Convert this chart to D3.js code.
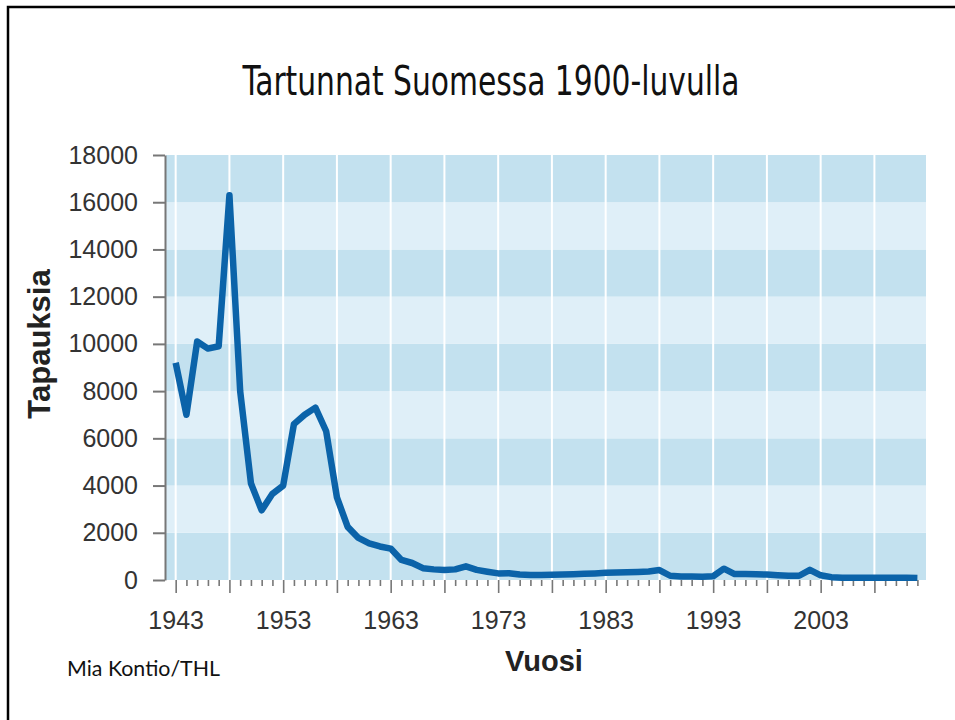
<!DOCTYPE html>
<html>
<head>
<meta charset="utf-8">
<script src="https://cdnjs.cloudflare.com/ajax/libs/d3/7.8.5/d3.min.js"></script>
<style>
  body { margin: 0; background: #fff; }
  svg { display: block; }
</style>
</head>
<body>
<svg id="chart"></svg>
<script>
// vuodet ja tapaukset luettu kuvasta
var years = [];
for (var yr = 1943; yr <= 2012; yr++) years.push(yr);

var cases = [
  9200, 7000, 10100, 9800, 9900, 16300, 8000, 4100, 2950, 3650,   // 1943-1952
  4000, 6600, 7000, 7300, 6300, 3500, 2250, 1780, 1550, 1420,     // 1953-1962
  1330, 850, 720, 500, 450, 420, 450, 580, 430, 350,              // 1963-1972
  280, 290, 230, 210, 210, 220, 230, 240, 260, 280,               // 1973-1982
  310, 320, 330, 340, 360, 420, 180, 150, 150, 140,               // 1983-1992
  160, 480, 250, 250, 240, 230, 200, 180, 180, 430,               // 1993-2002
  200, 120, 100, 100, 100, 100, 100, 100, 100, 90                 // 2003-2012
];

var yTicks = [0, 2000, 4000, 6000, 8000, 10000, 12000, 14000, 16000, 18000];
var xLabels = [1943, 1953, 1963, 1973, 1983, 1993, 2003];
var gridYears = [1943, 1948, 1953, 1958, 1963, 1968, 1973, 1978, 1983, 1988, 1993, 1998, 2003, 2008];

var dataset = years.map(function (d, i) {
  return { year: d, value: cases[i] };
});

// mitat
var W = 955, H = 720;
var margin = { top: 155, left: 166 },
    width = 760,
    height = 425;

var x = d3.scaleLinear()
  .domain([1942.1, 2012.8])
  .range([0, width]);

var y = d3.scaleLinear()
  .domain([0, 18000])
  .range([height, 0]);

var root = d3.select("#chart")
  .attr("width", W)
  .attr("height", H);

// kehys
root.append("rect")
  .attr("x", 8).attr("y", 7)
  .attr("width", 1000).attr("height", 1000)
  .attr("fill", "none")
  .attr("stroke", "#000")
  .attr("stroke-width", 2.5);

// otsikko
root.append("text")
  .attr("x", 491).attr("y", 95)
  .attr("text-anchor", "middle")
  .attr("textLength", 497)
  .attr("lengthAdjust", "spacingAndGlyphs")
  .style("font-family", "'Liberation Sans Narrow', 'DejaVu Sans Condensed', sans-serif")
  .style("font-size", "40px")
  .style("fill", "#111")
  .text("Tartunnat Suomessa 1900-luvulla");

var svg = root.append("g")
  .attr("transform", "translate(" + margin.left + "," + margin.top + ")");

// vaakaraidat
svg.selectAll(".band")
  .data(yTicks.slice(0, -1))
  .enter().append("rect")
  .attr("class", "band")
  .attr("x", 0)
  .attr("width", width)
  .attr("y", function (d) { return y(d + 2000); })
  .attr("height", function (d) { return y(d) - y(d + 2000); })
  .attr("fill", function (d, i) { return i % 2 === 0 ? "#c3e1ef" : "#dfeff8"; });

// pystyviivat 5 vuoden valein
svg.selectAll(".vgrid")
  .data(gridYears)
  .enter().append("line")
  .attr("class", "vgrid")
  .attr("x1", function (d) { return x(d); })
  .attr("x2", function (d) { return x(d); })
  .attr("y1", 0)
  .attr("y2", height)
  .attr("stroke", "#fff")
  .attr("stroke-width", 2);

// y-akseli
var yAxis = svg.append("g")
  .attr("transform", "translate(-1,0)")
  .call(d3.axisLeft(y).tickValues(yTicks).tickSize(12).tickSizeOuter(0).tickPadding(15)
    .tickFormat(d3.format("d")));
yAxis.select(".domain").attr("stroke", "#777").attr("stroke-width", 2);
yAxis.selectAll(".tick line").attr("stroke", "#777").attr("stroke-width", 2);
yAxis.selectAll(".tick text")
  .style("font-family", "'Liberation Sans', Arial, sans-serif")
  .style("font-size", "25px")
  .style("fill", "#333");

// x-akseli
var xAxis = svg.append("g")
  .attr("transform", "translate(0," + height + ")")
  .call(d3.axisBottom(x).tickValues(years).tickSize(6).tickSizeOuter(0)
    .tickFormat(function (d) { return xLabels.indexOf(d) >= 0 ? d : ""; }));
xAxis.select(".domain").remove();
xAxis.selectAll(".tick line")
  .attr("stroke", "#777")
  .attr("stroke-width", 1.6)
  .attr("y2", function (d) { return (d - 1943) % 5 === 0 ? 13 : 6; });
xAxis.selectAll(".tick text")
  .attr("y", 31)
  .style("font-family", "'Liberation Sans', Arial, sans-serif")
  .style("font-size", "25px")
  .style("fill", "#333");

// viiva
var line = d3.line()
  .x(function (d) { return x(d.year); })
  .y(function (d) { return y(d.value); });

svg.append("path")
  .datum(dataset)
  .attr("fill", "none")
  .attr("stroke", "#0b63a9")
  .attr("stroke-width", 6.5)
  .attr("stroke-linejoin", "round")
  .attr("d", line);

// akselien otsikot
root.append("text")
  .attr("transform", "translate(50,344) rotate(-90)")
  .attr("text-anchor", "middle")
  .style("font-family", "'Liberation Sans', Arial, sans-serif")
  .style("font-weight", "bold")
  .style("font-size", "31px")
  .style("fill", "#222")
  .text("Tapauksia");

root.append("text")
  .attr("x", 544).attr("y", 671)
  .attr("text-anchor", "middle")
  .style("font-family", "'Liberation Sans', Arial, sans-serif")
  .style("font-weight", "bold")
  .style("font-size", "29px")
  .style("fill", "#222")
  .text("Vuosi");

// lahde
root.append("text")
  .attr("x", 67).attr("y", 676)
  .attr("textLength", 153)
  .attr("lengthAdjust", "spacingAndGlyphs")
  .style("font-family", "Lato, 'Open Sans', sans-serif")
  .style("font-size", "22px")
  .style("fill", "#111")
  .text("Mia Kontio/THL");
</script>
</body>
</html>
